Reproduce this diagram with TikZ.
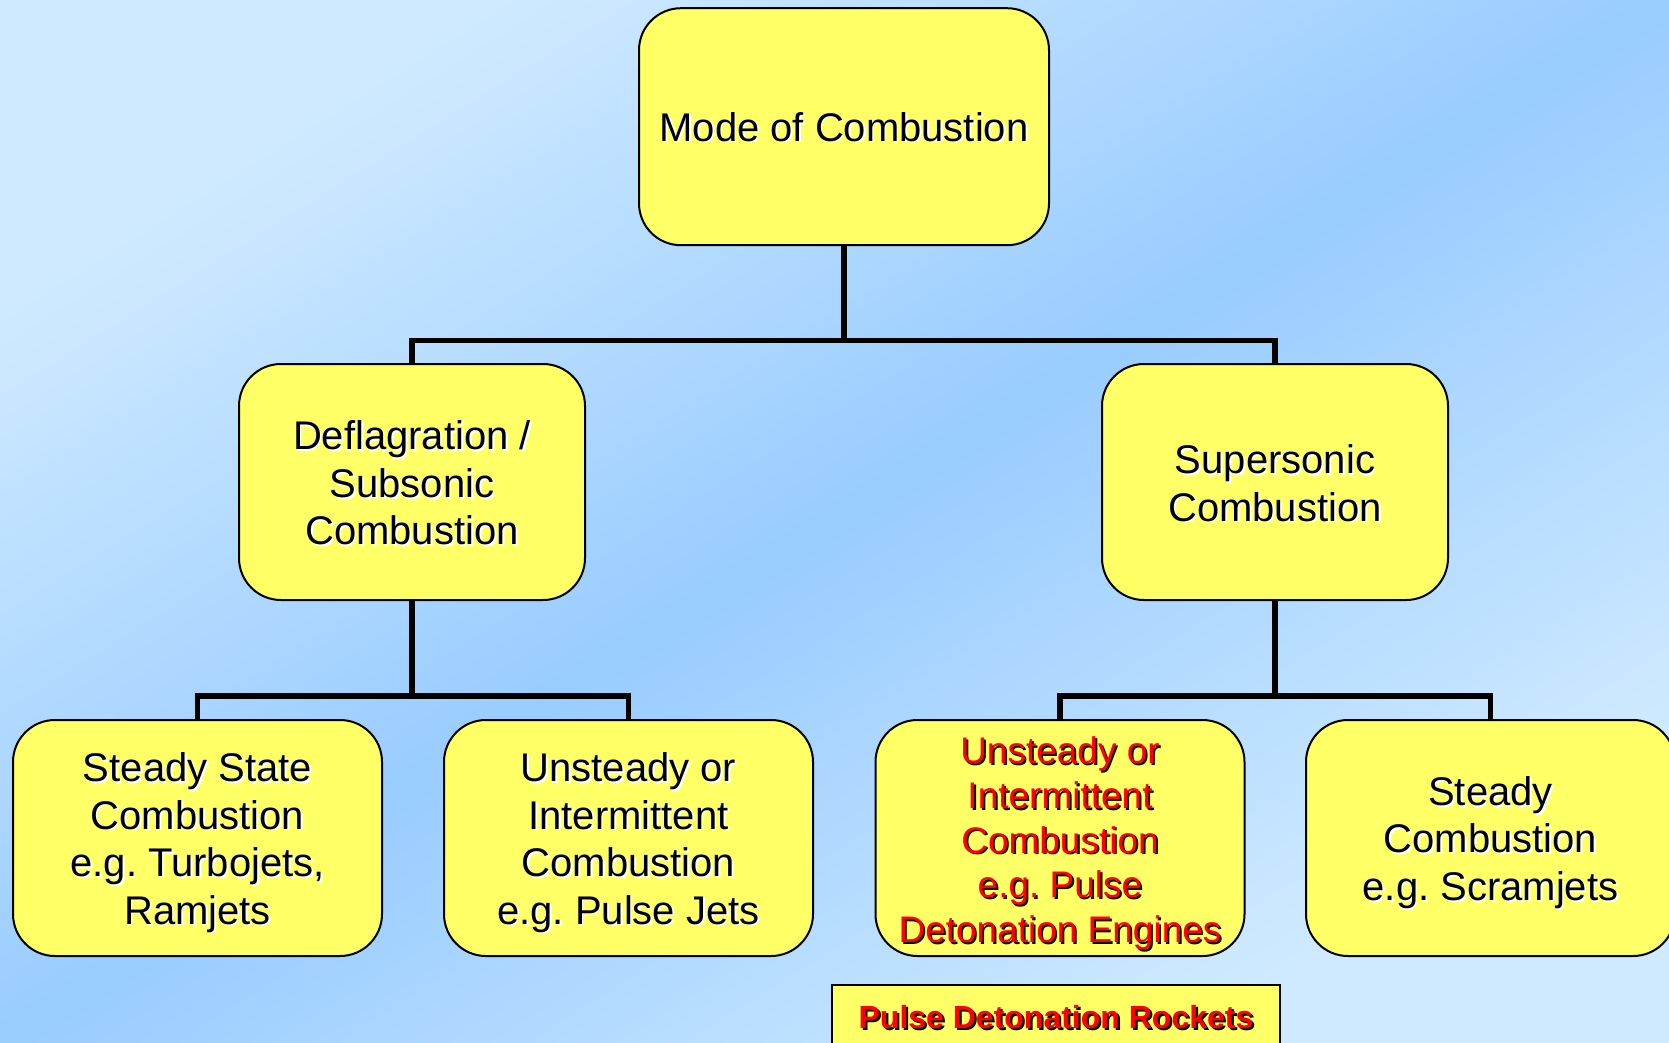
\documentclass[tikz,border=0pt]{standalone}
\usepackage{fontspec}
\setmainfont{Liberation Sans}
\frenchspacing
\definecolor{bglight}{HTML}{CFEAFF}
\definecolor{bgdark}{HTML}{99CCFF}
\definecolor{boxyellow}{HTML}{FFFF66}
\definecolor{redtext}{HTML}{FF0000}
\tikzset{
  box/.style={draw=black, line width=2pt, fill=boxyellow, rounded corners=42pt, inner sep=0pt},
  conn/.style={draw=black, line width=5.5pt},
  txt/.style={align=center, inner sep=0pt, font=\fontsize{40}{47.5}\selectfont},
  redtxt/.style={align=center, inner sep=0pt, font=\fontsize{37}{44.7}\selectfont},
}
\newcommand\shtext[7]{% style, name, box node, dy, text colour, shadow colour, text
  \node[#1, text=#6] at ([shift={(1.8,1.8+#4)}]#3.center) {#7};
  \node[#1, text=#5] (#2) at ([shift={(0,#4)}]#3.center) {#7};}
\begin{document}
\begin{tikzpicture}[x=1pt,y=-1pt]
\useasboundingbox (0,0) rectangle (1669,1042);
\clip (0,0) rectangle (1669,1042);
\begin{scope}[transform canvas={xscale=1.60173}]
\shade[left color=bglight, right color=bglight, middle color=bgdark, shading angle=45] (0,0) rectangle (1042,1042);
\end{scope}

% boxes
\node[box, minimum width=410, minimum height=237] (top) at (844,126.7) {};
\node[box, minimum width=346, minimum height=236] (ml) at (412,482) {};
\node[box, minimum width=346, minimum height=236] (mr) at (1275,482) {};
\node[box, minimum width=369, minimum height=236] (b1) at (197.5,838) {};
\node[box, minimum width=369, minimum height=236] (b2) at (628.5,838) {};
\node[box, minimum width=369, minimum height=236] (b3) at (1060,838) {};
\node[box, minimum width=369, minimum height=236] (b4) at (1490.5,838) {};
\node[draw=black, line width=2pt, fill=boxyellow, minimum width=448, minimum height=64, inner sep=0pt] (rk) at (1056,1017) {};

% connectors
\coordinate (j1) at (844,340.6);
\coordinate (j2) at (412,696);
\coordinate (j3) at (1275,696);
\draw[conn] (top.south) -- (j1);
\draw[conn] (ml.north) |- (j1) -| (mr.north);
\draw[conn] (ml.south) -- (j2);
\draw[conn] (b1.north) |- (j2) -| (b2.north);
\draw[conn] (mr.south) -- (j3);
\draw[conn] (b3.north) |- (j3) -| (b4.north);

% texts
\shtext{txt}{ttop}{top}{0}{black}{white}{Mode of Combustion}
\shtext{txt}{tml}{ml}{1}{black}{white}{Deflagration /\\Subsonic\\Combustion}
\shtext{txt}{tmr}{mr}{1}{black}{white}{Supersonic\\Combustion}
\shtext{txt}{tb1}{b1}{4.5}{black}{white}{Steady State\\Combustion\\e.g. Turbojets,\\Ramjets}
\shtext{txt}{tb2}{b2}{4.5}{black}{white}{Unsteady or\\Intermittent\\Combustion\\e.g. Pulse Jets}
\shtext{redtxt}{tb3}{b3}{5.5}{redtext}{black}{Unsteady or\\Intermittent\\Combustion\\e.g. Pulse\\Detonation Engines}
\shtext{txt}{tb4}{b4}{4.5}{black}{white}{Steady\\Combustion\\e.g. Scramjets}
\node[align=center, inner sep=0pt, font=\fontsize{32}{38}\selectfont\bfseries, text=black] at ([shift={(2.2,2.2)}]rk.center) {Pulse Detonation Rockets};
\node[align=center, inner sep=0pt, font=\fontsize{32}{38}\selectfont\bfseries, text=redtext] (trk) at (rk.center) {Pulse Detonation Rockets};
\end{tikzpicture}
\end{document}
